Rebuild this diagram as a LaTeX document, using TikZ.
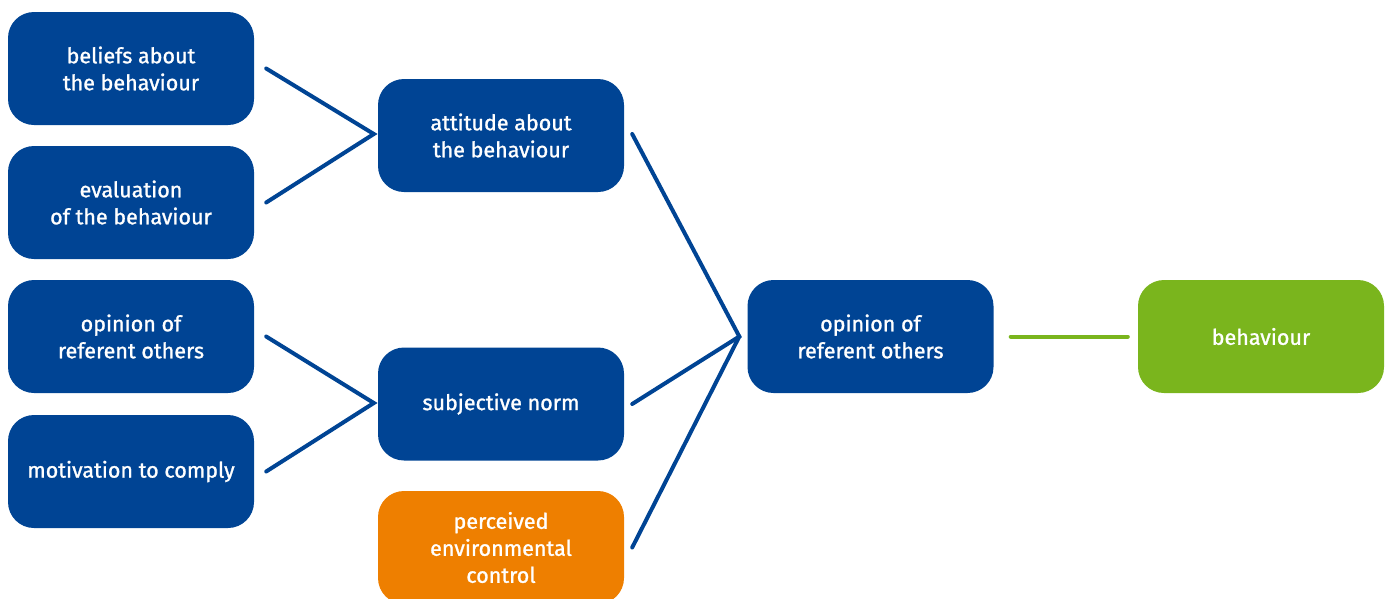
\documentclass[tikz,border=0pt]{standalone}
\usepackage{fontspec}
\setmainfont{Fira Sans}[FakeBold=1.2]
\usetikzlibrary{calc}
\definecolor{tblue}{HTML}{004494}
\definecolor{torange}{HTML}{EE7F00}
\definecolor{tgreen}{HTML}{7AB51D}
\begin{document}
\begin{tikzpicture}[x=1pt,y=-1pt,
  box/.style={rounded corners=26pt, fill=tblue, text=white, minimum width=246pt, minimum height=113pt, align=center, inner sep=0pt, font=\fontsize{21.5}{27}\selectfont},
  conn/.style={draw=tblue, line width=4pt, line cap=round, line join=miter},
  gconn/.style={draw=tgreen, line width=4pt, line cap=round}]
\useasboundingbox (0,0) rectangle (1389,598);
\node[box] (b1) at (131,68.5) {beliefs about\\the behaviour};
\node[box] (b2) at (131,202.5) {evaluation\\of the behaviour};
\node[box] (b3) at (131,336.5) {opinion of\\referent others};
\node[box] (b4) at (131,471.5) {motivation to comply};
\node[box] (att) at (501,135.5) {attitude about\\the behaviour};
\node[box] (sub) at (501,404) {subjective norm};
\node[box, fill=torange] (pec) at (501,547.5) {perceived\\environmental\\control};
\node[box] (opn) at (870.5,336.5) {opinion of\\referent others};
\node[box, fill=tgreen] (beh) at (1261,336.5) {behaviour};
\coordinate (j1) at ($(att.west)+(-4,-1.5)$);
\coordinate (j2) at ($(sub.west)+(-4,-1)$);
\coordinate (j3) at ($(opn.west)+(-8,0)$);
\draw[conn] ($(b1.east)+(12,0)$) -- (j1) -- ($(b2.east)+(12,0)$);
\draw[conn] ($(b3.east)+(12,0)$) -- (j2) -- ($(b4.east)+(12,0)$);
\draw[conn] ($(att.east)+(8,-1.5)$) -- (j3) -- ($(sub.east)+(8,0)$);
\draw[conn] ($(pec.east)+(8,0)$) -- (j3);
\draw[gconn] ($(opn.east)+(17,0)$) -- ($(beh.west)+(-10,0)$);
\end{tikzpicture}
\end{document}
